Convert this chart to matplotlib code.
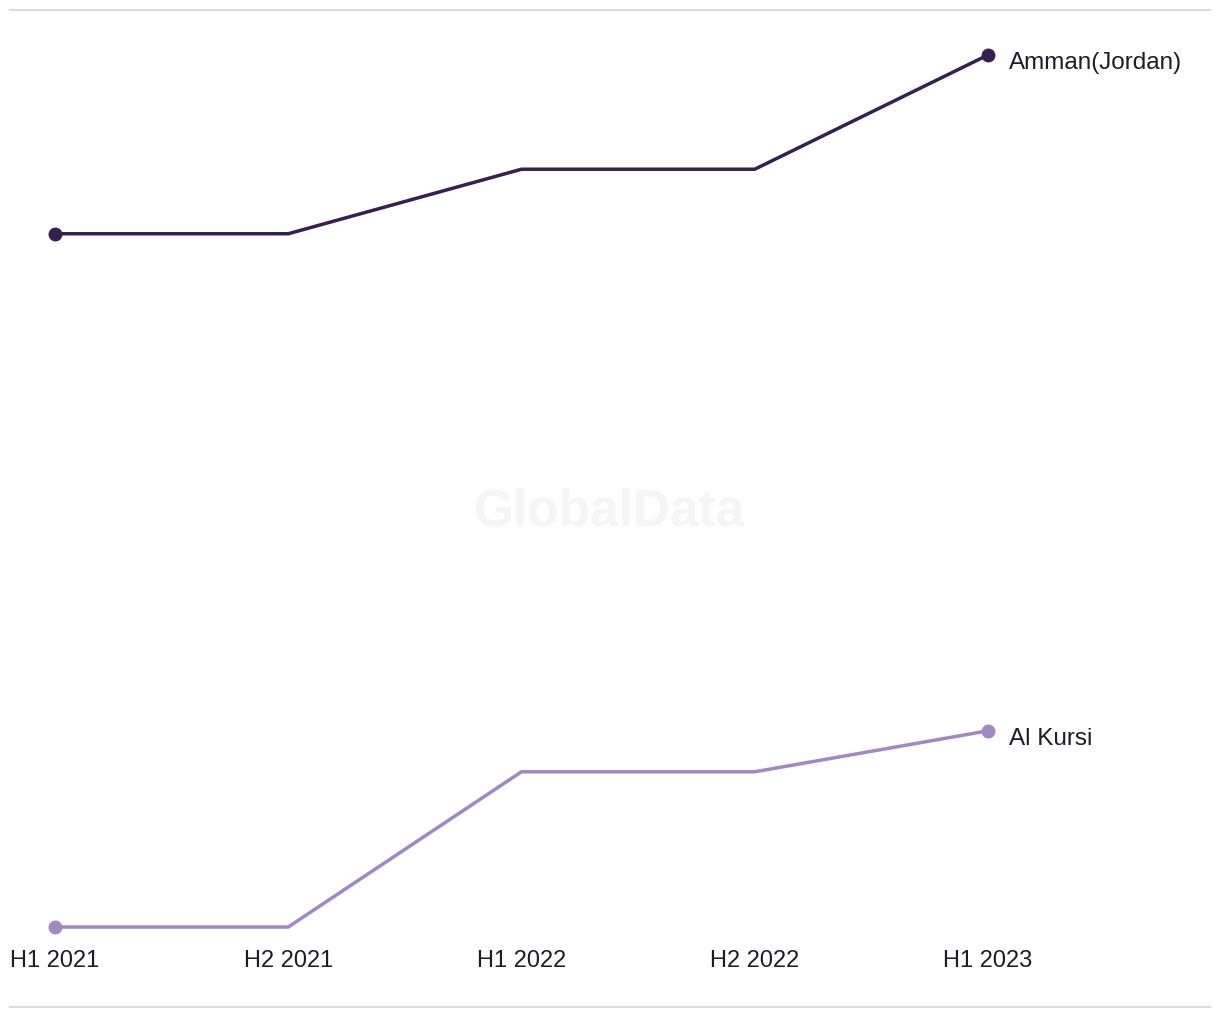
import matplotlib
matplotlib.use('Agg')
import matplotlib.pyplot as plt
from matplotlib.lines import Line2D

plt.rcParams['font.family'] = ['Liberation Sans', 'DejaVu Sans']

periods = ['H1 2021', 'H2 2021', 'H1 2022', 'H2 2022', 'H1 2023']
amman = [79.5, 79.5, 86.9, 86.9, 100.0]
al_kursi = [0.0, 0.0, 17.8, 17.8, 22.5]
series_names = ['Amman(Jordan)', 'Al Kursi']
colors = ['#35204f', '#a088c4']

W, H = 1220, 1020
fig = plt.figure(figsize=(W / 100, H / 100), dpi=100)
# axes spans pixel x 10..1210, y 11..940
ax = fig.add_axes([10 / W, 1 - 940 / H, 1200 / W, 929 / H])

x = list(range(len(periods)))
for vals, name, c in zip([amman, al_kursi], series_names, colors):
    ax.plot(x, vals, color=c, lw=2.5, solid_joinstyle='miter', clip_on=False)
    ax.plot([x[0], x[-1]], [vals[0], vals[-1]], 'o', color=c, ms=9, clip_on=False)
    ax.annotate(name, (x[-1], vals[-1]), xytext=(15, -5), textcoords='offset points',
                va='center', ha='left', fontsize=17.5, color='#1c1c2c')

ax.set_xlim(-0.193, 4.952)
ax.set_ylim(-1.376, 105.16)
ax.set_xticks(x)
ax.set_xticklabels(periods, fontsize=17, color='#1c1c2c')
ax.tick_params(axis='x', length=0, pad=7)
ax.set_yticks([])
for s in ax.spines.values():
    s.set_visible(False)

ax.text(0.5, (1 - 512 / H - (1 - 940 / H)) / (929 / H), 'GlobalData', transform=ax.transAxes,
        ha='center', va='center', fontsize=37, fontweight='bold', color='#f5f5f5', zorder=0)

fig.add_artist(Line2D([10 / W, 1210 / W], [1 - 11 / H, 1 - 11 / H], color='#dcdcdc', lw=1.5))
fig.add_artist(Line2D([10 / W, 1210 / W], [1 - 1008 / H, 1 - 1008 / H], color='#dcdcdc', lw=1.5))

fig.savefig('out.png', dpi=100, facecolor='white')
